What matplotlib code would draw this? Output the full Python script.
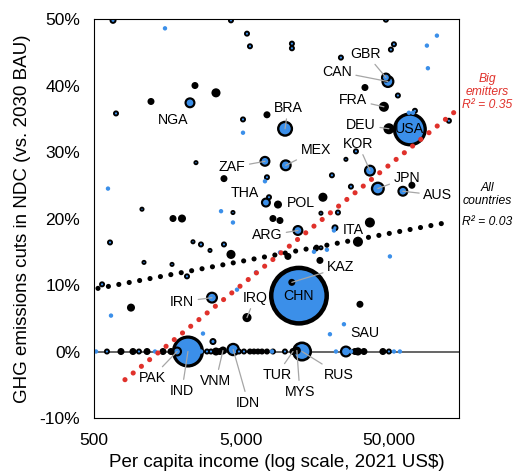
import matplotlib
matplotlib.use("Agg")
import matplotlib.pyplot as plt
import numpy as np
from matplotlib.ticker import FixedLocator, FuncFormatter, NullLocator

plt.rcParams['font.family'] = ['Liberation Sans', 'DejaVu Sans']
plt.rcParams['axes.unicode_minus'] = False

# Countries drawn as blue bubbles with a black rim (income US$, NDC cut %, emissions Gt)
bub_code = ['CHN', 'USA', 'IND', 'RUS', 'BRA', 'JPN', 'IDN', 'CAN', 'GBR', 'KOR',
            'MEX', 'IRN', 'ZAF', 'AUS', 'NGA', 'ARG', 'THA', 'PAK', 'ITA', None,
            None, None, None, None, None, None, None, None, None, None,
            None, None, None, None, None, None, None, None, None, None,
            None, None, None, None, None, None, None, None, None, None,
            None, None, None, None, None, None, None, None, None, None,
            None, None, None, None, None, None, None]
bub_inc = [12300, 69600, 2170, 12900, 9900, 42200, 4400, 49400, 47900, 37300,
           10000, 3160, 7230, 62400, 2240, 12100, 7340, 1830, 21600, 25620,
           673, 4250, 47860, 5460, 5720, 11020, 11020, 54250, 51760, 23700,
           57720, 75320, 128100, 705, 5130, 29970, 25620, 20590, 2460, 7460,
           7700, 27710, 17340, 22620, 1058, 4385, 642, 2348, 2660, 3063,
           3810, 1092, 1692, 2138, 567, 3209, 16040, 17340, 612, 1009,
           2922, 3110, 4816, 5208, 8193, 9882, 50170]
bub_cut = [8.4, 33.4, 0.0, 0.0, 33.5, 24.5, 0.3, 40.6, 41.2, 27.2,
           28.0, 8.1, 28.6, 24.1, 37.4, 18.2, 22.4, 0.0, 18.6, 0.0,
           49.8, 49.8, 49.9, 47.8, 45.9, 46.3, 45.6, 46.2, 45.4, 44.2,
           38.5, 36.2, 34.7, 35.8, 34.9, 30.1, 28.9, 26.5, 28.4, 26.2,
           23.2, 24.8, 20.8, 20.9, 21.4, 20.9, 16.4, 16.5, 16.1, 15.2,
           16.1, 13.4, 13.1, 11.3, 10.1, 1.5, 15.5, 15.6, 0.0, 0.0,
           0.0, 0.0, 0.0, 0.0, 0.0, 0.0, 0.0]
bub_emis = [14.0, 4.5, 4.0, 1.56, 1.0, 0.76, 0.70, 0.66, 0.39, 0.56,
            0.56, 0.56, 0.47, 0.47, 0.47, 0.47, 0.39, 0.39, 0.19, 0.56,
            0.19, 0.14, 0.14, 0.14, 0.14, 0.14, 0.14, 0.14, 0.14, 0.14,
            0.14, 0.14, 0.14, 0.14, 0.14, 0.14, 0.10, 0.14, 0.10, 0.14,
            0.14, 0.14, 0.10, 0.14, 0.10, 0.10, 0.14, 0.10, 0.14, 0.10,
            0.14, 0.10, 0.10, 0.14, 0.14, 0.19, 0.14, 0.10, 0.14, 0.14,
            0.14, 0.14, 0.14, 0.14, 0.14, 0.14, 0.14]

# Countries drawn as solid black dots
dark_code = ['DEU', 'FRA', 'POL', 'KAZ', 'IRQ', 'VNM', 'TUR', 'MYS', None, None,
             None, None, None, None, None, None, None, None, None, None,
             None, None, None, None, None, None, None, None, None, None,
             None, None, None, None, None, None, None, None, None, None,
             None, None, None]
dark_inc = [50170, 46400, 8860, 11000, 5460, 3750, 11200, 11900, 2422, 3363,
            1218, 7460, 3810, 34500, 71850, 17890, 37270, 30920, 1718, 1977,
            8190, 9140, 4252, 10350, 17070, 891, 31900, 762, 919, 1145,
            1469, 1665, 3363, 3580, 5720, 6088, 6480, 6902, 7459, 29500,
            30920, 33960, 45660]
dark_cut = [33.5, 36.8, 22.1, 10.4, 5.1, 0.15, 0.0, 0.15, 40.0, 38.9,
            37.6, 35.6, 26.0, 39.7, 25.0, 23.2, 19.4, 16.5, 20.0, 20.0,
            20.0, 19.7, 14.6, 14.3, 13.7, 6.6, 7.1, 0.0, 0.0, 0.0,
            0.0, 0.0, 0.0, 0.0, 0.0, 0.0, 0.0, 0.0, 0.0, 0.0,
            0.0, 0.0, 0.0]
dark_emis = [0.47, 0.39, 0.25, 0.19, 0.32, 0.25, 0.19, 0.25, 0.19, 0.32,
             0.19, 0.19, 0.19, 0.19, 0.19, 0.32, 0.39, 0.39, 0.19, 0.25,
             0.19, 0.19, 0.32, 0.19, 0.19, 0.25, 0.19, 0.19, 0.19, 0.19,
             0.19, 0.19, 0.25, 0.19, 0.14, 0.14, 0.14, 0.14, 0.14, 0.19,
             0.25, 0.19, 0.19]

# Small countries drawn as light blue dots
lite_code = ['SAU'] + [None] * 29
lite_inc = [24840, 1516, 106200, 90820, 92250, 5130, 7230, 622, 3640, 4385,
            9140, 6280, 4670, 652, 2745, 19040, 15550, 50950, 19960, 21250,
            68560, 72990, 516, 1297, 2660, 8066, 21920, 27710, 54250, 59570]
lite_cut = [4.1, 48.6, 47.5, 46.0, 42.6, 32.9, 25.6, 24.5, 21.1, 19.4,
            14.9, 11.9, 9.3, 5.4, 2.7, 15.3, 15.0, 14.3, 2.6, 18.2,
            35.9, 35.9, 0.0, 0.0, 0.0, 0.0, 0.0, 0.0, 0.0, 0.0]

# Logarithmic trend lines: cut = a + b * log10(income), over the income range shown
big_a, big_b, big_range = -56.6, 18.0, (811, 143000)
all_a, all_b, all_range = -1.9, 4.18, (532, 132000)

# label offsets in pixels (dx, dy) and whether a leader line is drawn
label_pos = {
    'NGA': (-17, -17, False), 'BRA': (3, 21, True), 'ZAF': (-33, -6, True),
    'MEX': (30, 15, True), 'THA': (-21, 10, False), 'POL': (23, 2, False),
    'ARG': (-31, -5, True), 'KAZ': (49, 15, True), 'IRN': (-30, -4, True),
    'IRQ': (8, 20, True), 'CHN': (0, 0, False), 'USA': (0, 0, False),
    'ITA': (18, -2, False), 'SAU': (21, -9, False), 'GBR': (-20, 24, True),
    'CAN': (-51, 10, True), 'FRA': (-31, 7, True), 'DEU': (-28, 4, True),
    'KOR': (-12, 27, True), 'JPN': (29, 11, True), 'AUS': (35, -4, True),
    'PAK': (-25, -26, True), 'IND': (-6, -39, True), 'VNM': (-7, -30, True),
    'IDN': (15, -53, True), 'TUR': (-16, -23, True), 'MYS': (3, -41, True),
    'RUS': (37, -23, True),
}

BLUE = '#3b8fe9'
RED = '#e0312b'
DPI = 100

fig = plt.figure(figsize=(5.14, 4.72), dpi=DPI)
ax = fig.add_axes([0.1829, 0.1144, 0.7101, 0.8453])

# assemble all markers, biggest first so small ones sit on top
inc = np.array(bub_inc + dark_inc + lite_inc, float)
cut = np.array(bub_cut + dark_cut + lite_cut, float)
codes = bub_code + dark_code + lite_code
emis = np.array(bub_emis + dark_emis + [0.0] * len(lite_inc))
radius = 30 * np.sqrt(emis / 14.0)
radius[len(bub_inc) + len(dark_inc):] = 2.2
edge_px = np.clip(1.6 + 0.1 * radius, 1.6, 4.5)
edge_px[len(bub_inc) + len(dark_inc):] = 0.0
face = [BLUE] * len(bub_inc) + ['black'] * len(dark_inc) + [BLUE] * len(lite_inc)
edge = ['black'] * (len(bub_inc) + len(dark_inc)) + ['none'] * len(lite_inc)

diam_pt = (2 * radius - edge_px) * 72 / DPI
order = np.argsort(-radius, kind='stable')
ax.axhline(0, color='#595959', lw=1.3, zorder=1)
ax.scatter(inc[order], cut[order], s=diam_pt[order] ** 2,
           c=[face[i] for i in order], edgecolors=[edge[i] for i in order],
           linewidths=edge_px[order] * 72 / DPI, zorder=2)

# trend lines
for a, b, rng, col in [(big_a, big_b, big_range, RED), (all_a, all_b, all_range, 'black')]:
    xs = np.logspace(np.log10(rng[0]), np.log10(rng[1]), 100)
    ax.plot(xs, a + b * np.log10(xs), color=col, lw=3.7, ls=(0, (0.01, 2.05)),
            dash_capstyle='round', zorder=3)

# country labels
for x, y, c in zip(inc, cut, codes):
    if c is None:
        continue
    dx, dy, lead = label_pos[c]
    ax.annotate(c, xy=(x, y), xytext=(dx, dy), textcoords='offset pixels',
                ha='center', va='center', fontsize=10.2, zorder=5,
                arrowprops=dict(arrowstyle='-', color='#a6a6a6', lw=0.9,
                                shrinkA=1, shrinkB=0) if lead else None)

ax.text(1.077, 0.817, 'Big\nemitters\nR² = 0.35', transform=ax.transAxes,
        ha='center', va='center', color=RED, style='italic', fontsize=8.7,
        linespacing=1.15, clip_on=False)
ax.text(1.077, 0.56, 'All\ncountries', transform=ax.transAxes,
        ha='center', va='center', color='black', style='italic', fontsize=8.7,
        linespacing=1.15, clip_on=False)
ax.text(1.077, 0.491, 'R² = 0.03', transform=ax.transAxes,
        ha='center', va='center', color='black', style='italic', fontsize=8.7,
        clip_on=False)

ax.set_xscale('log')
ax.set_xlim(500, 150000)
ax.set_ylim(-10, 50)
ax.xaxis.set_major_locator(FixedLocator([500, 5000, 50000]))
ax.xaxis.set_minor_locator(NullLocator())
ax.xaxis.set_major_formatter(FuncFormatter(lambda v, p: f'{v:,.0f}'))
ax.yaxis.set_major_locator(FixedLocator(np.arange(-10, 51, 10)))
ax.yaxis.set_major_formatter(FuncFormatter(lambda v, p: f'{v:.0f}%'))
ax.tick_params(axis='both', length=0, labelsize=12.5)
ax.tick_params(axis='x', pad=11)
ax.tick_params(axis='y', pad=10)
for sp in ax.spines.values():
    sp.set_linewidth(0.8)
    sp.set_color('black')

ax.set_xlabel('Per capita income (log scale, 2021 US$)', fontsize=13.5, labelpad=4)
ax.set_ylabel('GHG emissions cuts in NDC (vs. 2030 BAU)', fontsize=13.5, labelpad=6)

fig.savefig('out.png', dpi=DPI)
